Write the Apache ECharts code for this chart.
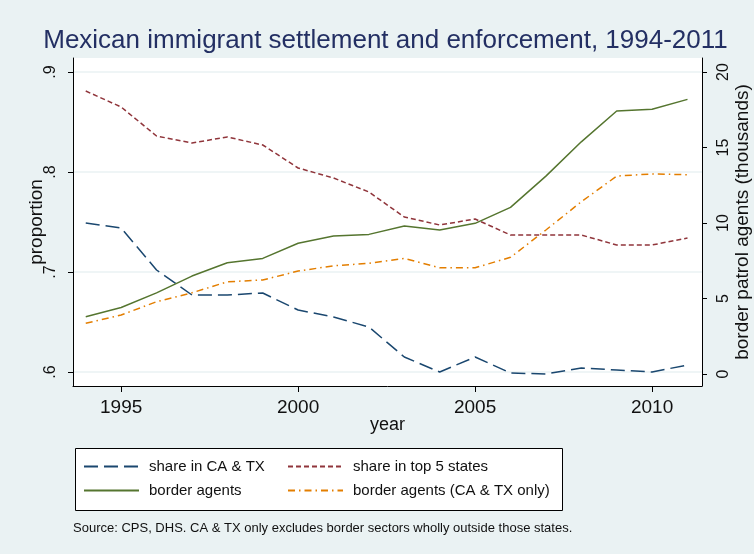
<!DOCTYPE html>
<html><head><meta charset="utf-8">
<script src="https://cdn.jsdelivr.net/npm/echarts@6/dist/echarts.min.js"></script>
<style>html,body{margin:0;padding:0;background:#eaf2f3}#c{width:754px;height:554px}</style>
</head><body><div id="c"></div>
<script>
const years = [1994,1995,1996,1997,1998,1999,2000,2001,2002,2003,2004,2005,2006,2007,2008,2009,2010,2011];
const shareCATX = [0.749,0.744,0.702,0.677,0.677,0.679,0.662,0.655,0.645,0.615,0.600,0.615,0.599,0.598,0.604,0.602,0.600,0.607];
const shareTop5 = [0.881,0.865,0.836,0.829,0.835,0.827,0.804,0.794,0.780,0.755,0.747,0.753,0.737,0.737,0.737,0.727,0.727,0.734];
const borderAgents = [3.79,4.41,5.38,6.49,7.37,7.66,8.66,9.14,9.25,9.80,9.54,9.98,11.04,13.11,15.38,17.42,17.53,18.19];
const borderAgentsCATX = [3.36,3.91,4.79,5.38,6.11,6.23,6.82,7.17,7.33,7.66,7.04,7.04,7.73,9.54,11.41,13.11,13.25,13.20];
const xTicks = [1995,2000,2005,2010];
const leftTicks = [0.6,0.7,0.8,0.9];
const rightTicks = [0,5,10,15,20];
const seriesNames = ['share in CA & TX','share in top 5 states','border agents','border agents (CA & TX only)'];

const FONT = 'Liberation Sans, Arial, sans-serif';
const pairs = arr => years.map((y,i)=>[y, arr[i]]);
const chart = echarts.init(document.getElementById('c'), null, {renderer:'canvas'});
const axisLineStyle = {color:'#000', width:1};
const legendCommon = {orient:'vertical', top:459, padding:0, itemWidth:55, itemHeight:16, itemGap:9, selectedMode:false,
  itemStyle:{opacity:0, borderWidth:0},
  textStyle:{fontFamily:FONT, fontSize:15, color:'#111', padding:[0,0,0,5]}};
chart.setOption({
  backgroundColor:'#eaf2f3',
  animation:false,
  grid:{left:73, top:58, width:629, height:328, show:true, backgroundColor:'#fff', borderWidth:0, containLabel:false, outerBoundsMode:'none'},
  xAxis:{type:'value', min:1993.64, max:2011.41,
    name:'year', nameLocation:'middle', nameGap:30, nameMoveOverlap:false,
    nameTextStyle:{fontFamily:FONT, fontSize:18, color:'#111'},
    axisLine:{show:true, onZero:false, lineStyle:axisLineStyle},
    axisTick:{show:true, length:6, customValues:xTicks, lineStyle:axisLineStyle},
    axisLabel:{customValues:xTicks, fontFamily:FONT, fontSize:19, color:'#111', margin:12, formatter:v=>String(Math.round(v))},
    splitLine:{show:false}},
  yAxis:[
    {type:'value', position:'left', min:0.586, max:0.914,
     name:'proportion', nameLocation:'middle', nameRotate:90, nameGap:27, nameMoveOverlap:false,
     nameTextStyle:{fontFamily:FONT, fontSize:19, color:'#111'},
     axisLine:{show:true, onZero:false, lineStyle:axisLineStyle},
     axisTick:{show:true, length:5, customValues:leftTicks, lineStyle:axisLineStyle},
     axisLabel:{customValues:leftTicks, rotate:90, margin:14, fontFamily:FONT, fontSize:16, color:'#111',
       formatter:v=>'.'+Math.round(v*10)},
     splitLine:{show:true, lineStyle:{color:'#eaf2f3', width:1.5}}},
    {type:'value', position:'right', min:-0.79, max:20.93,
     name:'border patrol agents (thousands)', nameLocation:'middle', nameRotate:90, nameGap:31, nameMoveOverlap:false,
     nameTextStyle:{fontFamily:FONT, fontSize:19, color:'#111'},
     axisLine:{show:true, onZero:false, lineStyle:axisLineStyle},
     axisTick:{show:true, length:5, customValues:rightTicks, lineStyle:axisLineStyle},
     axisLabel:{customValues:rightTicks, rotate:90, margin:14, fontFamily:FONT, fontSize:16, color:'#111'},
     splitLine:{show:false}}
  ],
  legend:[
    Object.assign({data:[seriesNames[0], seriesNames[2]], left:83}, legendCommon),
    Object.assign({data:[seriesNames[1], seriesNames[3]], left:287}, legendCommon)
  ],
  graphic:[
    {type:'rect', z:-1, shape:{x:75.5, y:448.5, width:487, height:62}, style:{fill:'#fff', stroke:'#000', lineWidth:1}},
    {type:'text', x:385.5, y:41, style:{text:'Mexican immigrant settlement and enforcement, 1994-2011', font:'26px '+FONT, fill:'#232f63', textAlign:'center', textVerticalAlign:'middle'}},
    {type:'text', x:73, y:528, style:{text:'Source: CPS, DHS. CA & TX only excludes border sectors wholly outside those states.', font:'13px '+FONT, fill:'#111', textAlign:'left', textVerticalAlign:'middle'}}
  ],
  series:[
    {name:seriesNames[0], type:'line', yAxisIndex:0, symbol:'none', data:pairs(shareCATX),
     lineStyle:{color:'#1a476f', width:1.5, type:[14,6]}, itemStyle:{color:'#1a476f'}},
    {name:seriesNames[1], type:'line', yAxisIndex:0, symbol:'none', data:pairs(shareTop5),
     lineStyle:{color:'#90353b', width:1.5, type:[5,3]}, itemStyle:{color:'#90353b'}},
    {name:seriesNames[2], type:'line', yAxisIndex:1, symbol:'none', data:pairs(borderAgents),
     lineStyle:{color:'#55752f', width:1.5, type:'solid'}, itemStyle:{color:'#55752f'}},
    {name:seriesNames[3], type:'line', yAxisIndex:1, symbol:'none', data:pairs(borderAgentsCATX),
     lineStyle:{color:'#e37e00', width:1.5, type:[7,4,1.5,4]}, itemStyle:{color:'#e37e00'}}
  ]
});
</script></body></html>
